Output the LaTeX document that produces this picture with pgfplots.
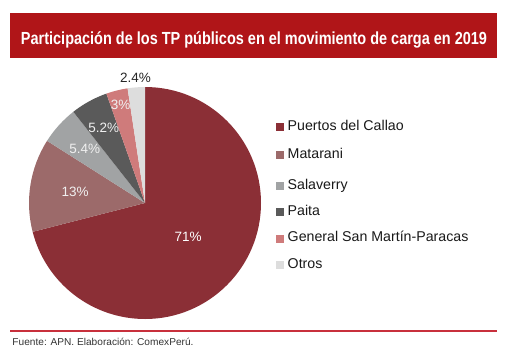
\documentclass[border=0pt]{standalone}
\usepackage{pgfplots}
\pgfplotsset{compat=1.18}
\usepackage{pgfplotstable}
\usepackage{graphicx}
\usepackage{fontspec}
\setmainfont{Liberation Sans}
\definecolor{titlered}{HTML}{B01518}
\definecolor{linered}{HTML}{C8303C}
\definecolor{c1}{HTML}{8B2F36}
\definecolor{c2}{HTML}{9C6A6A}
\definecolor{c3}{HTML}{A1A3A4}
\definecolor{c4}{HTML}{5A5A5A}
\definecolor{c5}{HTML}{CF7B7B}
\definecolor{c6}{HTML}{DDDDDD}
% slice: start (cumulative %), value (%), colour, label, label radius, label colour
\newcommand{\slice}[6]{%
  \fill[#3] (0,0) -- ({cos(90-3.6*#1)},{sin(90-3.6*#1)})
    arc[start angle={90-3.6*#1}, end angle={90-3.6*(#1+#2)}, radius=1] -- cycle;
  \node[text=#6, font=\fontsize{13.5bp}{15bp}\selectfont, inner sep=0pt]
    at ({#5*cos(90-3.6*(#1+#2/2))},{#5*sin(90-3.6*(#1+#2/2))}) {#4};
}
\begin{document}
\begin{tikzpicture}
\useasboundingbox (0,0) rectangle (508bp,-361bp);
% title bar
\fill[titlered] (10bp,-12.5bp) rectangle (497bp,-57.5bp);
\node[anchor=base, text=white, inner sep=0pt] at (254bp,-44.3bp)
  {\resizebox{466bp}{\height}{\fontsize{17.5bp}{19bp}\selectfont\bfseries Participación de los TP públicos en el movimiento de carga en 2019}};
\begin{axis}[
  at={(145bp,-203bp)}, anchor=center,
  width=232bp, height=232bp, scale only axis,
  xmin=-1, xmax=1, ymin=-1, ymax=1,
  hide axis, clip=false, disabledatascaling,
]
\slice{0}{71}{c1}{71\%}{0.47}{white}
\slice{71}{13}{c2}{13\%}{0.61}{white!94!black}
\slice{84}{5.4}{c3}{5.4\%}{0.70}{white!94!black}
\slice{89.4}{5.2}{c4}{5.2\%}{0.74}{white!94!black}
\slice{94.6}{3}{c5}{3\%}{0.87}{white!94!black}
\slice{97.6}{2.4}{c6}{2.4\%}{1.08}{black!85}
\end{axis}
% legend
\begin{scope}[font=\fontsize{14.2bp}{16bp}\selectfont]
\foreach \y/\c/\t in {127/c1/Puertos del Callao, 155/c2/Matarani, 186/c3/Salaverry, 212/c4/Paita, 238.5/c5/General San Martín-Paracas, 265/c6/Otros}{
  \fill[\c] (276bp,-\y bp+4bp) rectangle (284bp,-\y bp-4bp);
  \node[anchor=west, inner sep=0pt, text=black!90] at (287.5bp,-\y bp) {\strut\t};
}
\end{scope}
% footer
\fill[linered] (10bp,-330bp) rectangle (497bp,-331.7bp);
\node[anchor=base west, inner sep=0pt, text=black!80] at (12.3bp,-345.3bp)
  {\resizebox{181bp}{\height}{\fontsize{10bp}{12bp}\selectfont Fuente: APN. Elaboración: ComexPerú.}};
\end{tikzpicture}
\end{document}
